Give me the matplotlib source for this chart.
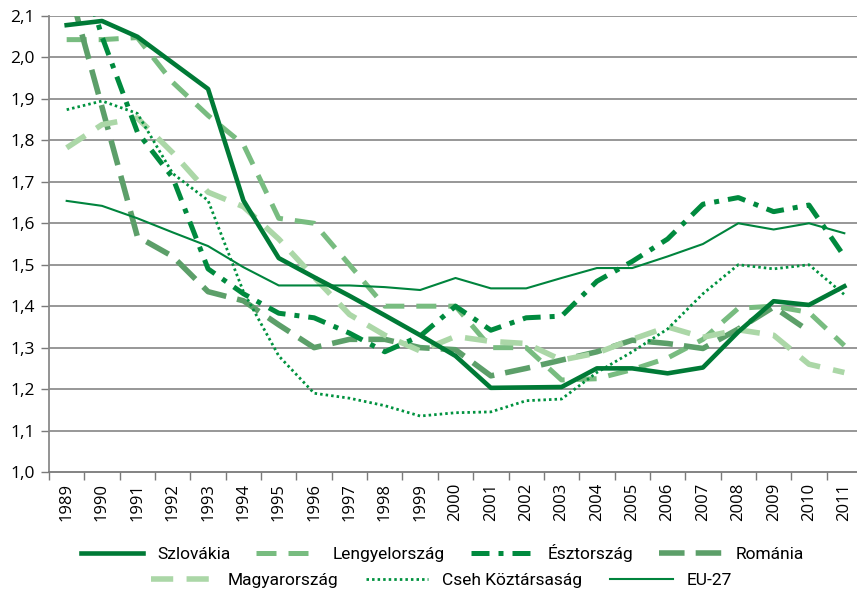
import matplotlib
matplotlib.use("Agg")
import matplotlib.pyplot as plt
import numpy as np

years = [str(y) for y in range(1989, 2012)]

szlovakia = [2.078, 2.088, 2.05, 1.987, 1.924, 1.655, 1.516, 1.47, 1.425, 1.378, 1.33, 1.28,
             1.203, 1.204, 1.205, 1.25, 1.25, 1.238, 1.252, 1.338, 1.412, 1.403, 1.448]
lengyel = [2.043, 2.043, 2.048, 1.94, 1.86, 1.79, 1.612, 1.60, 1.50, 1.40, 1.40, 1.40,
           1.30, 1.30, 1.222, 1.225, 1.247, 1.275, 1.32, 1.395, 1.40, 1.385, 1.305]
esztorszag = [2.33, 2.05, 1.82, 1.71, 1.49, 1.43, 1.383, 1.372, 1.335, 1.29, 1.328, 1.40,
              1.342, 1.372, 1.376, 1.46, 1.508, 1.562, 1.646, 1.662, 1.628, 1.644, 1.52]
romania = [2.19, 1.88, 1.568, 1.52, 1.435, 1.413, 1.355, 1.30, 1.32, 1.32, 1.30, 1.295,
           1.232, 1.25, 1.27, 1.29, 1.318, 1.31, 1.298, 1.345, 1.398, 1.34, np.nan]
magyar = [1.782, 1.838, 1.854, 1.77, 1.675, 1.64, 1.562, 1.47, 1.38, 1.33, 1.292, 1.327,
          1.315, 1.31, 1.27, 1.287, 1.32, 1.35, 1.325, 1.343, 1.33, 1.26, 1.24]
cseh = [1.874, 1.895, 1.865, 1.72, 1.655, 1.435, 1.28, 1.19, 1.178, 1.16, 1.135, 1.143,
        1.145, 1.172, 1.176, 1.24, 1.29, 1.345, 1.43, 1.50, 1.49, 1.50, 1.428]
eu27 = [1.654, 1.642, 1.612, 1.578, 1.545, 1.494, 1.45, 1.45, 1.45, 1.446, 1.439, 1.468,
        1.443, 1.443, 1.468, 1.492, 1.492, 1.52, 1.55, 1.60, 1.585, 1.60, 1.576]

yticks = [1.0, 1.1, 1.2, 1.3, 1.4, 1.5, 1.6, 1.7, 1.8, 1.9, 2.0, 2.1]

plt.rcParams['font.family'] = ['Open Sans', 'DejaVu Sans']

fig = plt.figure(figsize=(8.57, 5.92), dpi=100)
ax = fig.add_axes([49 / 857, 1 - 472 / 592, 813 / 857, 456 / 592])

x = np.arange(len(years))

for yv in yticks[1:]:
    ax.axhline(yv, color='#7a7a7a', lw=1.1, zorder=1)

lines = []
l, = ax.plot(x, lengyel, color='#78bc80', lw=3.6, dashes=(4.0, 2.4), label='Lengyelország', zorder=3)
lines.append(l)
l, = ax.plot(x, romania, color='#5c9f69', lw=4.0, dashes=(4.6, 2.0), label='Románia', zorder=3)
lines.append(l)
l, = ax.plot(x, magyar, color='#abd7a7', lw=4.0, dashes=(4.0, 2.4), label='Magyarország', zorder=3)
lines.append(l)
l, = ax.plot(x, cseh, color='#00923f', lw=2.0, dashes=(0.9, 1.1), label='Cseh Köztársaság', zorder=4)
lines.append(l)
l, = ax.plot(x, eu27, color='#00843d', lw=1.5, label='EU-27', zorder=4)
lines.append(l)
l, = ax.plot(x, esztorszag, color='#008a3e', lw=3.6, dashes=(3.6, 1.8, 1.0, 1.8), label='Észtország', zorder=5)
lines.append(l)
l, = ax.plot(x, szlovakia, color='#007a36', lw=3.3, label='Szlovákia', zorder=6)
lines.append(l)

ax.set_xlim(-0.5, len(years) - 0.5)
ax.set_ylim(1.0, 2.1)
ax.set_yticks(yticks)
ax.set_yticklabels([('%.1f' % v).replace('.', ',') for v in yticks], fontsize=12.5)

ax.set_xticks(x)
ax.set_xticklabels(years, rotation=90, fontsize=12)
ax.set_xticks(np.arange(len(years) + 1) - 0.5, minor=True)
ax.tick_params(axis='x', which='major', length=0, pad=8)
ax.tick_params(axis='x', which='minor', length=6, color='#7a7a7a', width=1)
ax.tick_params(axis='y', length=6, color='#7a7a7a', width=1, pad=4)

for s in ['top', 'right']:
    ax.spines[s].set_visible(False)
ax.spines['left'].set_color('#8a8a8a')
ax.spines['left'].set_linewidth(1.3)
ax.spines['bottom'].set_color('#7a7a7a')
ax.spines['bottom'].set_linewidth(1.3)

by = {h.get_label(): h for h in lines}
row1 = ['Szlovákia', 'Lengyelország', 'Észtország', 'Románia']
row2 = ['Magyarország', 'Cseh Köztársaság', 'EU-27']
leg_font = {'family': ['Roboto', 'DejaVu Sans'], 'size': 12.5}
leg1 = fig.legend([by[k] for k in row1], row1, loc='center', bbox_to_anchor=(0.516, 1 - 553 / 592),
                  ncol=4, frameon=False, prop=leg_font, handlelength=3.6, columnspacing=1.5,
                  handletextpad=0.8)
leg2 = fig.legend([by[k] for k in row2], row2, loc='center', bbox_to_anchor=(0.515, 1 - 580 / 592),
                  ncol=3, frameon=False, prop=leg_font, handlelength=3.6, columnspacing=1.6,
                  handletextpad=0.8)

fig.savefig('out.png', dpi=100)
